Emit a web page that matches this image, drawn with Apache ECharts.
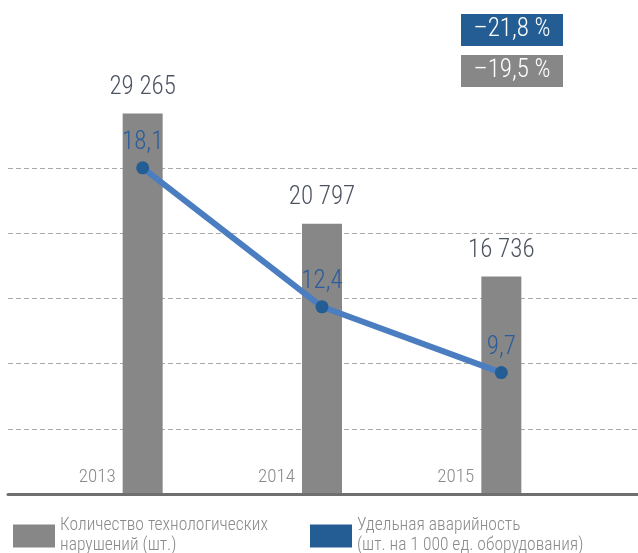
<!DOCTYPE html>
<html>
<head>
<meta charset="utf-8">
<script src="https://cdn.jsdelivr.net/npm/echarts@6/dist/echarts.min.js"></script>
<style>html,body{margin:0;padding:0;background:#fff;}#c{width:638px;height:553px;}</style>
</head>
<body>
<div id="c"></div>
<script>
const categories = ['2013', '2014', '2015'];
const violations = [29265, 20797, 16736];
const accidentRate = [18.1, 12.4, 9.7];
const changeLabels = ['–21,8 %', '–19,5 %'];
const seriesNames = ['Количество технологических\nнарушений (шт.)', 'Удельная аварийность\n(шт. на 1 000 ед. оборудования)'];

const FONT = "'Roboto Condensed','Liberation Sans Narrow','DejaVu Sans Condensed',Roboto,sans-serif";
const GRAY = '#878787';
const DARKBLUE = '#245d93';
const LINEBLUE = '#4a7ec0';

function fmtInt(v){ return String(v).replace(/\B(?=(\d{3})+(?!\d))/g, ' '); }
function fmtDec(v){ return String(v).replace('.', ','); }

const chart = echarts.init(document.getElementById('c'), null, {renderer:'canvas'});
chart.setOption({
  animation: false,
  textStyle: {fontFamily: FONT, fontWeight: 300},
  grid: [
    {left: 8, right: 0, top: 168, bottom: 59},
    {left: 53, right: 47, top: 104, bottom: 59}
  ],
  xAxis: [
    {gridIndex: 0, type: 'category', data: [''], z: 10,
     axisLine: {show: true, lineStyle: {color: '#6f6f6f', width: 3}},
     axisTick: {show: false}, axisLabel: {show: false}, splitLine: {show: false}},
    {gridIndex: 1, type: 'category', data: categories,
     axisLine: {show: false}, axisTick: {show: false}, splitLine: {show: false},
     axisLabel: {inside: true, align: 'right', padding: [0, 27, 0, 0], margin: 7,
                 color: '#8a8a8a', fontSize: 19, fontWeight: 300, fontFamily: FONT}}
  ],
  yAxis: [
    {gridIndex: 0, type: 'value', min: 0, max: 5, interval: 1,
     axisLine: {show: false}, axisTick: {show: false}, axisLabel: {show: false},
     splitLine: {show: true, lineStyle: {color: '#aaaaaa', width: 1, type: [5, 3]}}},
    {gridIndex: 1, type: 'value', min: 0, max: 30000, show: false, splitLine: {show: false}},
    {gridIndex: 1, type: 'value', min: 4.72, max: 20.72, show: false, splitLine: {show: false}}
  ],
  legend: [
    {left: 8, top: 511, selectedMode: false, icon: 'rect', itemWidth: 42, itemHeight: 23, itemGap: 10,
     textStyle: {color: '#8a8a8a', fontSize: 17.5, fontWeight: 300, lineHeight: 20, fontFamily: FONT},
     data: [{name: seriesNames[0], itemStyle: {color: GRAY}}]},
    {left: 305, top: 511, selectedMode: false, icon: 'rect', itemWidth: 42, itemHeight: 23, itemGap: 10,
     textStyle: {color: '#8a8a8a', fontSize: 17.5, fontWeight: 300, lineHeight: 20, fontFamily: FONT},
     data: [{name: seriesNames[1], itemStyle: {color: DARKBLUE}}]}
  ],
  graphic: [
    {type: 'group', left: 461, top: 14, children: [
      {type: 'rect', shape: {x: 0, y: 0, width: 102, height: 32}, style: {fill: DARKBLUE}},
      {type: 'text', x: 51, y: 16, style: {text: changeLabels[0], fill: '#fff', font: '300 25px ' + FONT, align: 'center', verticalAlign: 'middle'}}
    ]},
    {type: 'group', left: 461, top: 55, children: [
      {type: 'rect', shape: {x: 0, y: 0, width: 102, height: 32}, style: {fill: GRAY}},
      {type: 'text', x: 51, y: 16, style: {text: changeLabels[1], fill: '#fff', font: '300 25px ' + FONT, align: 'center', verticalAlign: 'middle'}}
    ]}
  ],
  series: [
    {name: seriesNames[0], type: 'bar', xAxisIndex: 1, yAxisIndex: 1, data: violations,
     barWidth: 40, itemStyle: {color: GRAY},
     label: {show: true, position: 'top', distance: 13, color: '#4d5461', fontSize: 25, fontWeight: 300, fontFamily: FONT,
             formatter: p => fmtInt(p.value)}},
    {name: seriesNames[1], type: 'line', xAxisIndex: 1, yAxisIndex: 2, data: accidentRate,
     z: 5, symbol: 'circle', symbolSize: 13,
     lineStyle: {color: LINEBLUE, width: 6}, itemStyle: {color: DARKBLUE},
     label: {show: true, position: 'top', distance: 6, color: '#2c5c99', fontSize: 25, fontWeight: 300, fontFamily: FONT,
             formatter: p => fmtDec(p.value)}}
  ]
});
</script>
</body>
</html>
